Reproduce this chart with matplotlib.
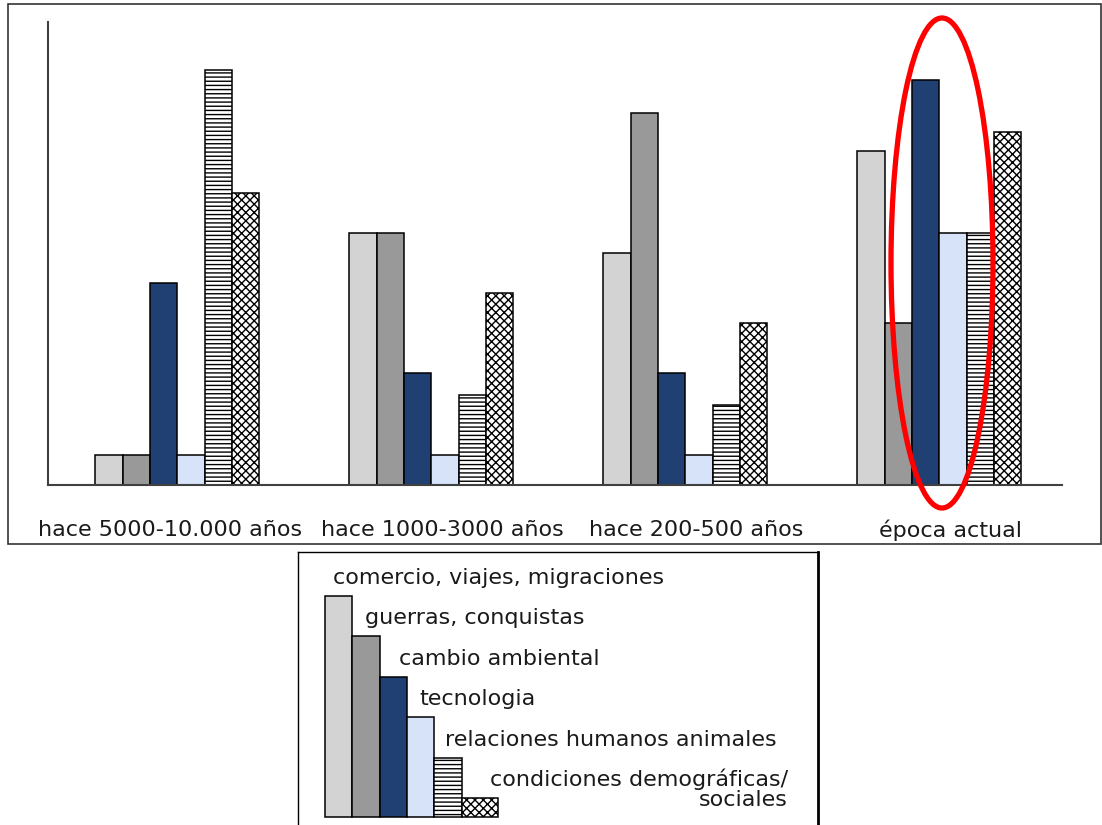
import matplotlib.pyplot as plt
from matplotlib.patches import Ellipse, Rectangle

plt.rcParams['font.family'] = ['DejaVu Sans']
plt.rcParams['hatch.linewidth'] = 1.0

periodos = ['hace 5000-10.000 años', 'hace 1000-3000 años', 'hace 200-500 años', 'época actual']
factores = ['comercio, viajes, migraciones', 'guerras, conquistas', 'cambio ambiental',
            'tecnologia', 'relaciones humanos animales', 'condiciones demográficas/\nsociales']

comercio = [3.0, 25.2, 23.2, 33.4]
guerras = [3.0, 25.2, 37.2, 16.2]
cambio = [20.2, 11.2, 11.2, 40.5]
tecnologia = [3.0, 3.0, 3.0, 25.2]
relaciones = [41.5, 9.0, 8.0, 25.2]
condiciones = [29.2, 19.2, 16.2, 35.3]
series = [comercio, guerras, cambio, tecnologia, relaciones, condiciones]

colores = ['#d3d3d3', '#999999', '#203f72', '#d6e3f8', 'white', 'white']
tramas = [None, None, None, None, '----', 'xxxx']

W, H = 1102, 825
fig = plt.figure(figsize=(W / 100, H / 100), dpi=100)

# marco del gráfico principal
fig.add_artist(Rectangle((8 / W, 1 - 544 / H), (1101 - 8) / W, (544 - 4) / H,
                         transform=fig.transFigure, fill=False, edgecolor='#333333', lw=1.2))

ax = fig.add_axes([48 / W, 1 - 485 / H, 1014 / W, 463 / H])
ancho = 0.108
for j, valores in enumerate(series):
    xs = [i * 1.002 + 0.51 + (j - 2.5) * ancho for i in range(len(periodos))]
    ax.bar(xs, valores, width=ancho, color=colores[j], hatch=tramas[j],
           edgecolor='black', linewidth=1.1)

ax.set_xlim(0, 4)
ax.set_ylim(0, 46.3)
ax.spines['top'].set_visible(False)
ax.spines['right'].set_visible(False)
for s in ['left', 'bottom']:
    ax.spines[s].set_color('#404040')
    ax.spines[s].set_linewidth(1.5)
ax.set_yticks([])
# las etiquetas quedan algo desplazadas respecto a cada grupo
ax.set_xticks([0.481, 1.554, 2.556, 3.562])
ax.set_xticklabels(periodos, fontsize=16, color='#1a1a1a')
ax.tick_params(axis='x', length=0, pad=25)

# óvalo rojo sobre la época actual
fig.add_artist(Ellipse((942 / W, 1 - 263 / H), 102 / W, 490 / H, transform=fig.transFigure,
                       fill=False, edgecolor='red', lw=3.8, zorder=5))

# leyenda en escalera
lg = fig.add_axes([298 / W, 0, 520 / W, 273 / H])
lg.set_xlim(0, 520)
lg.set_ylim(0, 273)
lg.set_xticks([])
lg.set_yticks([])
lg.spines['bottom'].set_visible(False)
for s in ['left', 'top']:
    lg.spines[s].set_linewidth(1.0)
lg.spines['right'].set_linewidth(2.0)

texto_x = [35, 67, 101, 121, 147]
x0 = 27
for j in range(len(factores)):
    w = 36 if j == len(factores) - 1 else 27.3
    h = 221 - 40.4 * j
    lg.bar(x0, h, width=w, bottom=8, align='edge', color=colores[j], hatch=tramas[j],
           edgecolor='black', linewidth=1.1)
    if j < len(factores) - 1:
        lg.text(texto_x[j], 8 + h + 18, factores[j], fontsize=16, color='#1a1a1a',
                ha='left', va='center')
    else:
        lg.text(490, 36, factores[j], fontsize=16, color='#1a1a1a', ha='right', va='center',
                multialignment='right', linespacing=1.0)
    x0 += w

fig.savefig('out.png', dpi=100)
